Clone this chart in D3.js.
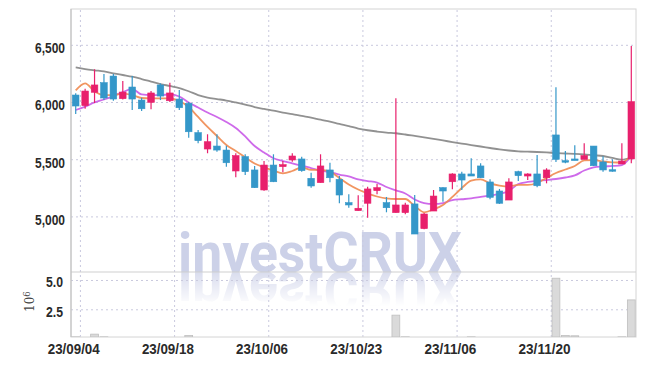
<!DOCTYPE html>
<html>
<head>
<meta charset="utf-8">
<script src="https://cdn.jsdelivr.net/npm/d3@7"></script>
<style>
body{margin:0;background:#fff;}
.lbl{font-family:"Liberation Sans",Arial,sans-serif;font-weight:bold;font-size:15px;fill:#2a2a2a;}
</style>
</head>
<body>
<div id="chart"></div>
<script>
var dates = ["23/09/04","23/09/05","23/09/06","23/09/07","23/09/08","23/09/11","23/09/12","23/09/13","23/09/14","23/09/15",
  "23/09/18","23/09/19","23/09/20","23/09/21","23/09/22","23/09/25","23/09/26","23/09/27","23/10/04","23/10/05",
  "23/10/06","23/10/10","23/10/11","23/10/12","23/10/13","23/10/16","23/10/17","23/10/18","23/10/19","23/10/20",
  "23/10/23","23/10/24","23/10/25","23/10/26","23/10/27","23/10/30","23/10/31","23/11/01","23/11/02","23/11/03",
  "23/11/06","23/11/07","23/11/08","23/11/09","23/11/10","23/11/13","23/11/14","23/11/15","23/11/16","23/11/17",
  "23/11/20","23/11/21","23/11/22","23/11/23","23/11/24","23/11/27","23/11/28","23/11/29","23/11/30","23/12/01"];

var opens  = [6061,5968,6085,6169,6227,6029,6131,6017,5997,6149, 6011,6026,5988,5732,5589,5615,5580,5397,5522,5406,
              5231,5449,5435,5493,5502,5333,5295,5406,5324,5120, 5050,5115,5225,5120,5033,5033,5109,4893,5047,5251,
              5303,5371,5371,5441,5301,5222,5143,5391,5353,5371, 5338,5712,5487,5502,5499,5615,5476,5408,5458,5502];
var highs  = [6076,6116,6286,6245,6245,6183,6227,6038,6096,6163, 6169,6105,6000,5755,5718,5718,5618,5552,5543,5441,
              5484,5543,5484,5552,5522,5382,5543,5470,5353,5193, 5185,5260,5283,5170,6032,5120,5187,5030,5231,5254,
              5377,5391,5508,5464,5324,5240,5333,5400,5377,5537, 5421,6128,5572,5622,5639,5615,5525,5499,5639,6490];
var lows   = [5895,5941,5991,6017,6011,6022,5930,5921,5936,6017, 6000,5930,5688,5639,5552,5566,5434,5342,5362,5248,
              5225,5300,5386,5478,5391,5251,5295,5298,5115,5076, 5050,4989,5193,5036,5033,5018,4846,4887,5047,5129,
              5237,5231,5353,5336,5150,5109,5143,5310,5318,5254, 5289,5476,5464,5490,5499,5441,5391,5391,5458,5464];
var closes = [5965,6096,6149,6035,6026,6087,6026,5941,6079,6052, 6079,5950,5740,5662,5653,5580,5469,5531,5391,5251,
              5449,5303,5452,5528,5400,5266,5441,5338,5187,5100, 5071,5240,5251,5076,5100,5100,4846,5021,5178,5222,
              5371,5318,5353,5338,5167,5115,5301,5356,5371,5268, 5406,5499,5478,5493,5531,5443,5406,5397,5484,6003];
// volume in millions of shares
var volumes = [0.15,0.12,0.38,0.15,0.10,0.06,0.12,0.05,0.05,0.05, 0.08,0.06,0.26,0.10,0.08,0.06,0.05,0.08,0.10,0.06,
               0.08,0.05,0.05,0.04,0.05,0.08,0.10,0.06,0.08,0.05, 0.06,0.10,0.06,0.08,2.00,0.15,0.12,0.08,0.06,0.05,
               0.08,0.06,0.15,0.10,0.06,0.05,0.08,0.06,0.05,0.05, 0.06,5.15,0.26,0.24,0.08,0.06,0.06,0.05,0.15,3.30];

var ma5  = [6101,6163,6092,6061,6061,6074,6061,6035,6032,6032, 6031,6009,5956,5869,5782,5703,5624,5572,5515,5462,
            5428,5401,5377,5397,5429,5406,5406,5391,5336,5279, 5235,5200,5174,5157,5152,5152,5091,5036,5062,5100,
            5170,5248,5312,5324,5289,5270,5261,5275,5275,5292, 5336,5379,5410,5441,5489,5493,5480,5473,5471,5537];
var ma20 = [5930,5959,5996,6022,6052,6087,6114,6066,6061,6061, 6066,6048,5996,5952,5908,5869,5825,5773,5699,5615,
            5559,5508,5484,5464,5443,5423,5401,5388,5366,5349, 5323,5309,5296,5257,5227,5200,5148,5117,5109,5117,
            5143,5150,5157,5170,5183,5196,5222,5283,5301,5310, 5318,5327,5340,5358,5401,5428,5436,5441,5449,5528];
var ma60 = [6302,6288,6277,6267,6251,6236,6221,6201,6179,6157, 6140,6122,6094,6061,6039,6026,6013,5996,5978,5956,
            5939,5924,5908,5895,5879,5864,5845,5828,5808,5790, 5768,5753,5742,5733,5727,5716,5703,5690,5677,5664,
            5650,5637,5624,5611,5598,5585,5576,5569,5566,5563, 5559,5554,5550,5546,5541,5534,5528,5511,5497,5515];

var priceTicks = [5000, 5500, 6000, 6500];
var volTicks = [2.5, 5.0];
var dateTicks = ["23/09/04","23/09/18","23/10/06","23/10/23","23/11/06","23/11/20"];

var W = 645, H = 366;
var pLeft = 71, pRight = 636, pTop = 9, pMid = 272, pBottom = 337;
var upColor = "#e8206c", downColor = "#3497c9";

var svg = d3.select("#chart").append("svg").attr("width", W).attr("height", H);
var defs = svg.append("defs");
defs.append("clipPath").attr("id", "clipMain").append("rect")
  .attr("x", pLeft).attr("y", pTop).attr("width", pRight - pLeft).attr("height", pMid - pTop);
defs.append("clipPath").attr("id", "clipVol").append("rect")
  .attr("x", pLeft).attr("y", pMid).attr("width", pRight - pLeft).attr("height", pBottom - pMid);
var grad = defs.append("linearGradient").attr("id", "fade").attr("x1", 0).attr("y1", 0).attr("x2", 0).attr("y2", 1);
grad.append("stop").attr("offset", "0%").attr("stop-color", "#fff").attr("stop-opacity", 0.75);
grad.append("stop").attr("offset", "100%").attr("stop-color", "#fff").attr("stop-opacity", 0);
defs.append("mask").attr("id", "reflMask").attr("maskUnits", "userSpaceOnUse")
  .attr("x", 0).attr("y", pMid).attr("width", W).attr("height", 40)
  .append("rect").attr("x", 0).attr("y", pMid).attr("width", W).attr("height", 34).attr("fill", "url(#fade)");

var x = d3.scaleBand().domain(dates).range([pLeft, pRight]).padding(0);
var bw = x.bandwidth();
var cx = function(i){ return x(dates[i]) + bw / 2; };
var y = d3.scaleLinear().domain([4514, 6813]).range([pMid, pTop]);
var yv = d3.scaleLinear().domain([0, 5.68]).range([338.6, pMid]);

// watermark and its reflection
var wm = svg.append("g");
function drawMark(g){
  g.append("text").attr("x", 178).attr("y", pMid)
    .attr("textLength", 284).attr("lengthAdjust", "spacingAndGlyphs")
    .style("font-family", "Roboto, 'Open Sans', sans-serif").style("font-weight", "bold")
    .style("font-size", "56px").style("fill", "#ccd1e8")
    .text("investCRUX");
}
drawMark(wm.append("g").attr("clip-path", "url(#clipMain)"));
drawMark(wm.append("g").attr("mask", "url(#reflMask)").append("g")
  .attr("transform", "translate(0," + (2 * pMid) + ") scale(1,-1)"));

// grid
var gridColor = "#c9c9de";
svg.append("g").attr("transform", "translate(" + pLeft + ",0)")
  .call(d3.axisLeft(y).tickValues(priceTicks).tickSize(-(pRight - pLeft)).tickFormat(""))
  .call(function(g){ g.select(".domain").remove(); })
  .selectAll("line").attr("stroke", gridColor).attr("stroke-dasharray", "2,3");
svg.append("g").attr("transform", "translate(" + pLeft + ",0)")
  .call(d3.axisLeft(yv).tickValues(volTicks).tickSize(-(pRight - pLeft)).tickFormat(""))
  .call(function(g){ g.select(".domain").remove(); })
  .selectAll("line").attr("stroke", gridColor).attr("stroke-dasharray", "2,3");
svg.append("g").attr("transform", "translate(" + (bw / 2) + "," + pBottom + ")")
  .call(d3.axisBottom(x).tickValues(dateTicks).tickSize(-(pBottom - pTop)).tickFormat(""))
  .call(function(g){ g.select(".domain").remove(); })
  .selectAll("line").attr("stroke", gridColor).attr("stroke-dasharray", "2,3");

// frame
svg.append("rect").attr("x", pLeft).attr("y", pTop).attr("width", pRight - pLeft).attr("height", pBottom - pTop)
  .attr("fill", "none").attr("stroke", "#d4d4d4").attr("stroke-width", 1);
svg.append("line").attr("x1", pLeft).attr("x2", pRight).attr("y1", pMid).attr("y2", pMid)
  .attr("stroke", "#cfcfcf");
svg.append("line").attr("x1", pLeft).attr("x2", pLeft).attr("y1", pTop).attr("y2", pBottom)
  .attr("stroke", "#bdbdbd");

// volume bars
svg.append("g").attr("clip-path", "url(#clipVol)").selectAll("rect")
  .data(volumes).enter().append("rect")
  .attr("x", function(d, i){ return x(dates[i]) + 0.8; })
  .attr("y", function(d){ return yv(d); })
  .attr("width", bw - 1.6)
  .attr("height", function(d){ return Math.max(0, pBottom - yv(d)); })
  .attr("fill", "#dadada").attr("stroke", "#bfbfbf").attr("stroke-width", 0.8);

// moving averages
var plot = svg.append("g").attr("clip-path", "url(#clipMain)");
function maLine(vals, color){
  var line = d3.line().x(function(d, i){ return cx(i); }).y(function(d){ return y(d); }).curve(d3.curveMonotoneX);
  plot.append("path").datum(vals).attr("d", line)
    .attr("fill", "none").attr("stroke", color).attr("stroke-width", 1.8).attr("stroke-opacity", 0.9);
}
maLine(ma60, "#858585");
maLine(ma20, "#c95ae8");
maLine(ma5, "#ef8a50");

// candles
var candles = plot.selectAll("g.c").data(dates).enter().append("g").attr("class", "c");
candles.append("line")
  .attr("x1", function(d, i){ return cx(i); }).attr("x2", function(d, i){ return cx(i); })
  .attr("y1", function(d, i){ return y(highs[i]); }).attr("y2", function(d, i){ return y(lows[i]); })
  .attr("stroke", function(d, i){ return closes[i] >= opens[i] ? upColor : downColor; })
  .attr("stroke-width", 1.2);
candles.append("rect")
  .attr("x", function(d, i){ return cx(i) - bw * 0.35; })
  .attr("width", bw * 0.7)
  .attr("y", function(d, i){ return y(Math.max(opens[i], closes[i])); })
  .attr("height", function(d, i){ return Math.max(1.5, Math.abs(y(opens[i]) - y(closes[i]))); })
  .attr("fill", function(d, i){ return closes[i] >= opens[i] ? upColor : downColor; })
  .attr("stroke", function(d, i){ return closes[i] >= opens[i] ? upColor : downColor; })
  .attr("stroke-width", 0.6);

// axis labels
var ya = svg.append("g").attr("transform", "translate(" + pLeft + ",0)")
  .call(d3.axisLeft(y).tickValues(priceTicks).tickSize(0).tickPadding(6).tickFormat(d3.format(",")));
ya.select(".domain").remove();
ya.selectAll("text").attr("class", "lbl").attr("dy", "0.53em")
  .attr("textLength", 30).attr("lengthAdjust", "spacingAndGlyphs");

var va = svg.append("g").attr("transform", "translate(" + (pLeft - 2) + ",0)")
  .call(d3.axisLeft(yv).tickValues(volTicks).tickSize(0).tickPadding(6).tickFormat(d3.format(".1f")));
va.select(".domain").remove();
va.selectAll("text").attr("class", "lbl").attr("dy", "0.45em")
  .attr("textLength", 17).attr("lengthAdjust", "spacingAndGlyphs");

var xa = svg.append("g").attr("transform", "translate(-2," + pBottom + ")")
  .call(d3.axisBottom(x).tickValues(dateTicks).tickSize(0).tickPadding(6));
xa.select(".domain").remove();
xa.selectAll("text").attr("class", "lbl")
  .attr("textLength", 52).attr("lengthAdjust", "spacingAndGlyphs");

var unit = svg.append("text").attr("transform", "translate(34,312) rotate(-90)")
  .style("font-family", "'DejaVu Serif', serif").style("font-size", "12px").style("fill", "#444");
unit.append("tspan").text("10");
unit.append("tspan").attr("dy", "-0.45em").style("font-size", "8.5px").text("6");
</script>
</body>
</html>
